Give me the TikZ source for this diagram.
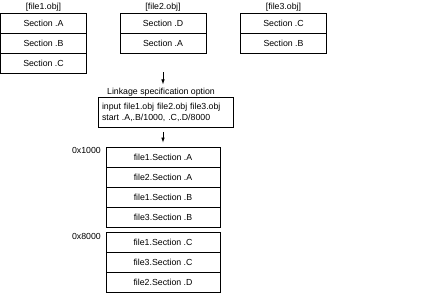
\documentclass[tikz,border=0pt]{standalone}
\usepackage{fontspec}
\setmainfont{Liberation Sans}
\usetikzlibrary{arrows.meta, positioning}

\begin{document}
\begin{tikzpicture}[
x={(1bp,0bp)}, y={(0bp,-1bp)},
% #region Picture settings %
font=\fontsize{8.8}{11}\selectfont,
sec/.style={draw, line width=0.8bp, minimum width=86bp, minimum height=20bp, inner sep=0pt},
mem/.style={sec, minimum width=114bp},
ev/.style={-{Latex[length=5bp,width=3.6bp]}, line width=0.7bp},
% #endregion Picture settings %
]
\useasboundingbox (0,0) rectangle (443,296);

% object files
\node (lf1) at (43.5,7) {[file1.obj]};
\foreach \s [count=\i] in {A,B,C}
  \node[sec] (f1-\i) at (43.5,3+20*\i) {Section .\s};

\node (lf2) at (163,7) {[file2.obj]};
\foreach \s [count=\i] in {D,A}
  \node[sec] (f2-\i) at (163,3+20*\i) {Section .\s};

\node (lf3) at (283.5,7) {[file3.obj]};
\foreach \s [count=\i] in {C,B}
  \node[sec] (f3-\i) at (283.5,3+20*\i) {Section .\s};

% linkage option
\coordinate (a1) at (163,72);
\node (lopt) at (161,92) {Linkage specification option};
\node[draw, line width=0.8bp, minimum width=135bp, minimum height=29.5bp, text width=127bp, inner xsep=4bp, align=left] (opt) at (165.5,112.3)
  {input file1.obj file2.obj file3.obj\\start .A,.B/1000, .C,.D/8000};

% memory layout
\node[anchor=west] (adr1) at (68.5,150) {0x1000};
\foreach \s [count=\i] in {file1.Section .A, file2.Section .A, file1.Section .B, file3.Section .B}
  \node[mem] (m1-\i) at (163,137+20*\i) {\s};

\node[anchor=west] (adr2) at (68.5,236) {0x8000};
\foreach \s [count=\i] in {file1.Section .C, file3.Section .C, file2.Section .D}
  \node[mem] (m2-\i) at (163,222.7+20*\i) {\s};

\draw[ev] (a1) -- (lopt.north -| a1);
\draw[ev, shorten <=4.5bp, shorten >=4bp] (opt.south -| m1-1.north) -- (m1-1.north);

\end{tikzpicture}
\end{document}
